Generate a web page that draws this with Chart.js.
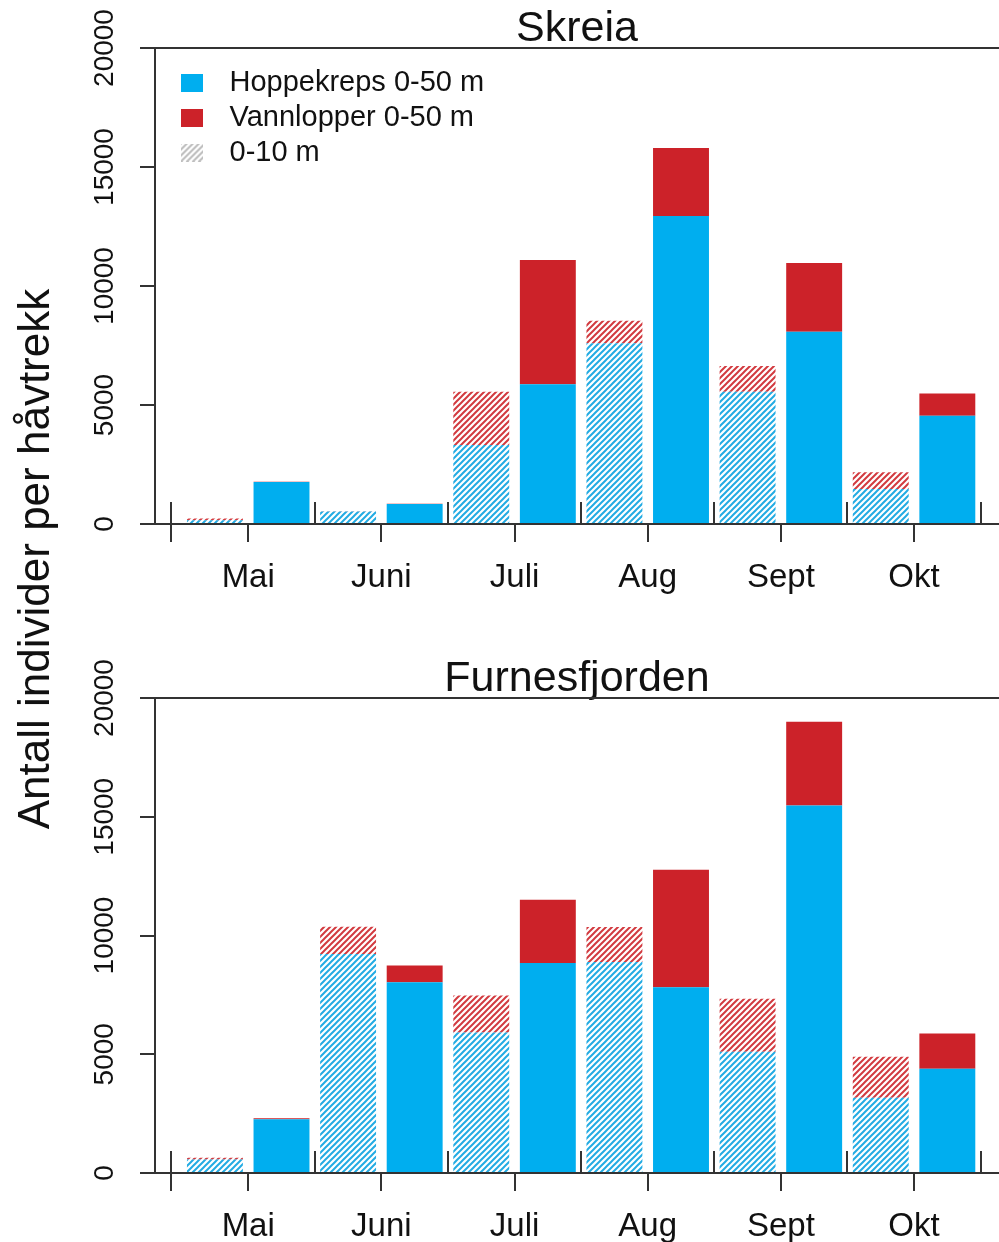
<!DOCTYPE html>
<html><head><meta charset="utf-8">
<script src="https://cdn.jsdelivr.net/npm/chart.js@4.4.1/dist/chart.umd.min.js"></script>
<style>
html,body{margin:0;padding:0;background:#fff;overflow:hidden;}
#wrap{position:relative;width:999px;height:1242px;}
canvas{position:absolute;left:0;}
#ylab{position:absolute;width:700px;height:44px;line-height:44px;left:-319.2px;top:537px;text-align:center;
font:44px "Liberation Sans",Arial,sans-serif;color:#111;transform:rotate(-90deg);transform-origin:50% 50%;white-space:nowrap;}
</style></head><body>
<div id="wrap">
<canvas id="c1" width="999" height="621" style="top:0"></canvas>
<canvas id="c2" width="999" height="621" style="top:621px"></canvas>
<div id="ylab">Antall individer per håvtrekk</div>
</div>
<script>
// ---- data ----
const months = ['Mai', 'Juni', 'Juli', 'Aug', 'Sept', 'Okt'];
const yTicks = [0, 5000, 10000, 15000, 20000];
const legendLabels = ['Hoppekreps 0-50 m', 'Vannlopper 0-50 m', '0-10 m'];

const skreiaHoppe010 = [160, 520, 3320, 7590, 5560, 1470];
const skreiaVann010  = [70, 20, 2240, 950, 1080, 700];
const skreiaHoppe050 = [1760, 840, 5870, 12940, 8080, 4550];
const skreiaVann050  = [10, 10, 5220, 2860, 2890, 930];

const furnesHoppe010 = [570, 9220, 5920, 8880, 5110, 3170];
const furnesVann010  = [70, 1150, 1550, 1480, 2230, 1730];
const furnesHoppe050 = [2265, 8030, 8840, 7820, 15470, 4390];
const furnesVann050  = [40, 710, 2670, 4950, 3530, 1480];

// ---- style ----
const FONT = '"Liberation Sans", Arial, sans-serif';
const BLUE = '#00AEEF';
const RED = '#CC2229';
const AXIS = '#333333';
const TXT = '#111111';
Chart.defaults.font.family = FONT;

function hatchCanvas(color, w, h) {
  const c = document.createElement('canvas');
  c.width = w; c.height = h;
  const g = c.getContext('2d');
  g.strokeStyle = color; g.lineWidth = 2; g.lineCap = 'square';
  g.beginPath();
  for (let k = -h; k < w + h; k += 6) { g.moveTo(k, h); g.lineTo(k + h, 0); }
  g.stroke();
  return c;
}
function makePattern(color) {
  const t = document.createElement('canvas');
  t.width = 6; t.height = 6;
  const g = t.getContext('2d');
  g.strokeStyle = color; g.lineWidth = 2;
  g.beginPath();
  g.moveTo(0, 6); g.lineTo(6, 0);
  g.moveTo(-3, 3); g.lineTo(3, -3);
  g.moveTo(3, 9); g.lineTo(9, 3);
  g.stroke();
  return document.getElementById('c1').getContext('2d').createPattern(t, 'repeat');
}
const bluePat = makePattern('#22ABE3');
const redPat = makePattern('#D23A3F');

function legendIcon(kind) {
  const c = document.createElement('canvas');
  c.width = 34; c.height = 18;
  const g = c.getContext('2d');
  if (kind === 'hatch') {
    g.drawImage(hatchCanvas('#BDBDBD', 22, 18), 0, 0);
  } else {
    g.fillStyle = kind; g.fillRect(0, 0, 22, 18);
  }
  return c;
}
const legendIcons = [legendIcon(BLUE), legendIcon(RED), legendIcon('hatch')];

const sepTicks = [1.5, 2.5, 3.5, 4.5, 5.5, 6.5];
const crossTick = 0.42;

const framePlugin = {
  id: 'frame',
  afterDraw(chart) {
    const { ctx, chartArea: a } = chart;
    const x = chart.scales.x;
    ctx.save();
    ctx.strokeStyle = AXIS; ctx.lineWidth = 2;
    ctx.beginPath();
    ctx.moveTo(a.left, a.top); ctx.lineTo(a.right, a.top);
    sepTicks.forEach(v => {
      const px = Math.round(x.getPixelForValue(v));
      ctx.moveTo(px, a.bottom); ctx.lineTo(px, a.bottom - 22);
    });
    const p0 = Math.round(x.getPixelForValue(crossTick));
    ctx.moveTo(p0, a.bottom - 22); ctx.lineTo(p0, a.bottom + 18);
    ctx.stroke();
    ctx.restore();
  }
};
const legendPlace = {
  id: 'legendPlace',
  beforeDraw(chart) {
    const lg = chart.legend;
    if (!lg || !lg.options.display) return;
    const w = lg.width, h = lg.height;
    lg.left = chart.chartArea.left + 20; lg.right = lg.left + w;
    lg.top = 62; lg.bottom = lg.top + h;
  }
};

function makeChart(id, title, h010, v010, h050, v050, titlePadTop, xAxisH, showLegend) {
  const pts = arr => arr.map((v, i) => ({ x: i + 1, y: v }));
  const common = { barPercentage: 0.84, categoryPercentage: 1.0, borderWidth: 0 };
  return new Chart(document.getElementById(id), {
    type: 'bar',
    data: {
      datasets: [
        Object.assign({ label: 'Hoppekreps 0-10 m', data: pts(h010), backgroundColor: bluePat, stack: 's010' }, common),
        Object.assign({ label: 'Vannlopper 0-10 m', data: pts(v010), backgroundColor: redPat, stack: 's010' }, common),
        Object.assign({ label: 'Hoppekreps 0-50 m', data: pts(h050), backgroundColor: BLUE, stack: 's050' }, common),
        Object.assign({ label: 'Vannlopper 0-50 m', data: pts(v050), backgroundColor: RED, stack: 's050' }, common)
      ]
    },
    options: {
      responsive: false,
      animation: false,
      devicePixelRatio: 1,
      events: [],
      layout: { padding: 0 },
      plugins: {
        tooltip: { enabled: false },
        title: {
          display: true, text: title, fullSize: false, color: TXT,
          font: { family: FONT, size: 43, weight: 'normal', lineHeight: 1 },
          padding: { top: titlePadTop, bottom: -3 }
        },
        legend: {
          display: showLegend,
          position: 'chartArea',
          align: 'start',
          labels: {
            usePointStyle: true, pointStyleWidth: 34, boxHeight: 18, padding: 6,
            color: TXT, font: { family: FONT, size: 29 },
            generateLabels: () => legendLabels.map((t, i) => ({
              text: t, pointStyle: legendIcons[i], fillStyle: 'rgba(0,0,0,0)',
              strokeStyle: 'rgba(0,0,0,0)', lineWidth: 0, hidden: false, datasetIndex: i, fontColor: TXT
            }))
          }
        }
      },
      scales: {
        x: {
          type: 'linear', min: 0.3, max: 6.638, stacked: true, offset: false,
          afterBuildTicks: ax => { ax.ticks = months.map((m, i) => ({ value: i + 1 })); },
          afterFit: s => { s.height = xAxisH; },
          ticks: {
            callback: v => months[Math.round(v) - 1],
            color: TXT, font: { family: FONT, size: 33 }, padding: 16,
            maxRotation: 0, minRotation: 0, autoSkip: false
          },
          grid: { display: true, offset: false, drawOnChartArea: false, drawTicks: true, tickLength: 18, color: AXIS, lineWidth: 2 },
          border: { display: true, color: AXIS, width: 2 }
        },
        y: {
          type: 'linear', min: 0, max: 20000, stacked: true,
          afterBuildTicks: ax => { ax.ticks = yTicks.map(v => ({ value: v })); },
          afterFit: s => { s.width = 155; },
          ticks: {
            callback: v => String(v), color: TXT, font: { family: FONT, size: 28 },
            padding: -4, minRotation: 90, maxRotation: 90, crossAlign: 'center', autoSkip: false
          },
          grid: { drawOnChartArea: false, drawTicks: true, tickLength: 15, color: AXIS, lineWidth: 2 },
          border: { display: true, color: AXIS, width: 2 }
        }
      }
    },
    plugins: [framePlugin, legendPlace]
  });
}

makeChart('c1', 'Skreia', skreiaHoppe010, skreiaVann010, skreiaHoppe050, skreiaVann050, 8, 97, true);
makeChart('c2', 'Furnesfjorden', furnesHoppe010, furnesVann010, furnesHoppe050, furnesVann050, 37, 69, false);
</script>
</body></html>
